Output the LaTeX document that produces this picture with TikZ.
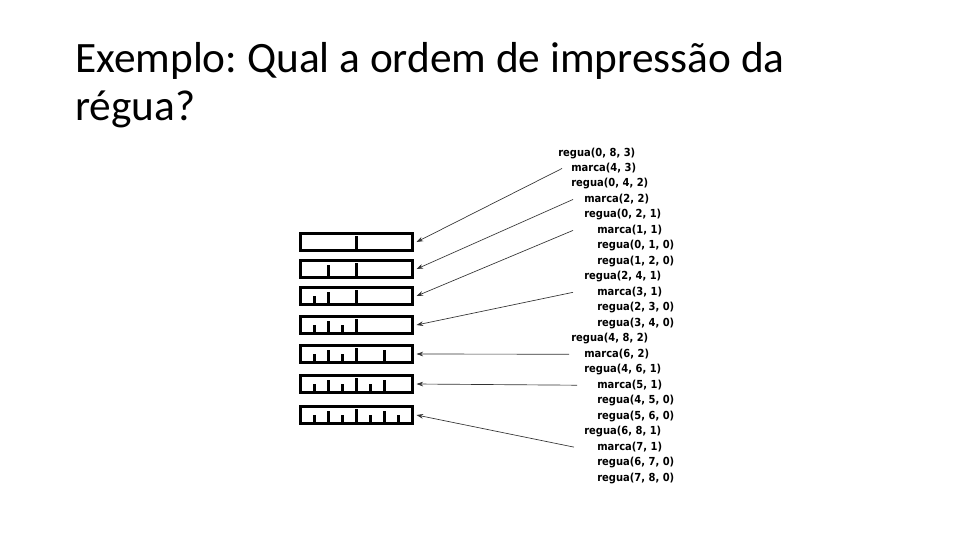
\documentclass[tikz,border=0pt]{standalone}
\usepackage{fontspec}
\setmainfont{Carlito}
\newfontfamily\callfont{DejaVu Sans Condensed}
\usetikzlibrary{arrows.meta}
\frenchspacing

\begin{document}
\begin{tikzpicture}[
    x=0.75pt, y=-0.75pt,   % one unit is one pixel, y grows downwards
    ruler/.style={
        draw,
        line width=2.3pt,       % heavy frame of each ruler
        minimum width=84pt,
        minimum height=13pt,
        inner sep=0pt,
        outer sep=0pt
    },
    tick/.style={line width=1.6pt},
    call/.style={anchor=west, inner sep=0pt, font=\callfont\bfseries\fontsize{8.3pt}{10pt}\selectfont},
    arr/.style={draw=black!80, line width=0.5pt, -{Stealth[length=5pt,width=3.5pt]}}
]
\useasboundingbox (0,0) rectangle (960,540);

\node[anchor=north west, inner sep=0pt, align=left, font=\fontsize{32.5pt}{36pt}\selectfont] (title)
    at (75,42) {Exemplo: Qual a ordem de impressão da\\régua?};

% trace of the recursive calls
\foreach \i/\lev/\txt in {1/0/{regua(0, 8, 3)}, 2/1/{marca(4, 3)}, 3/1/{regua(0, 4, 2)},
    4/2/{marca(2, 2)}, 5/2/{regua(0, 2, 1)}, 6/3/{marca(1, 1)}, 7/3/{regua(0, 1, 0)},
    8/3/{regua(1, 2, 0)}, 9/2/{regua(2, 4, 1)}, 10/3/{marca(3, 1)}, 11/3/{regua(2, 3, 0)},
    12/3/{regua(3, 4, 0)}, 13/1/{regua(4, 8, 2)}, 14/2/{marca(6, 2)}, 15/2/{regua(4, 6, 1)},
    16/3/{marca(5, 1)}, 17/3/{regua(4, 5, 0)}, 18/3/{regua(5, 6, 0)}, 19/2/{regua(6, 8, 1)},
    20/3/{marca(7, 1)}, 21/3/{regua(6, 7, 0)}, 22/3/{regua(7, 8, 0)}}
  \node[call] (line\i) at ({558+13*\lev}, {153+15.48*(\i-1)}) {\txt};

% rulers after each marca
\foreach \n/\y/\marks in {1/242/{4/3}, 2/269/{4/3,2/2}, 3/296/{4/3,2/2,1/1},
    4/325/{4/3,2/2,1/1,3/1}, 5/354/{4/3,2/2,1/1,3/1,6/2},
    6/384/{4/3,2/2,1/1,3/1,6/2,5/1}, 7/415/{4/3,2/2,1/1,3/1,6/2,5/1,7/1}} {
  \node[ruler] (r\n) at (356.5,\y) {};
  \foreach \k/\h in \marks {
    \pgfmathsetmacro\len{{0,8.3,12.8,14.3}[\h]}
    \draw[tick] ([xshift={(\k-4)*10.5pt}]r\n.south) -- ++(0,-\len);
  }
}

\draw[arr] ([xshift=-6.75pt]line2.west) -- ([xshift=3pt]r1.east);
\draw[arr] ([xshift=-8.25pt]line4.west) -- ([xshift=3pt]r2.east);
\draw[arr] ([xshift=-18pt]line6.west) -- ([xshift=3pt]r3.east);
\draw[arr] ([xshift=-18pt]line10.west) -- ([xshift=3pt]r4.east);
\draw[arr] ([xshift=-11.25pt]line14.west) -- ([xshift=3pt]r5.east);
\draw[arr] ([xshift=-15pt]line16.west) -- ([xshift=3pt]r6.east);
\draw[arr] ([xshift=-17.25pt]line20.west) -- ([xshift=3pt]r7.east);
\end{tikzpicture}
\end{document}
